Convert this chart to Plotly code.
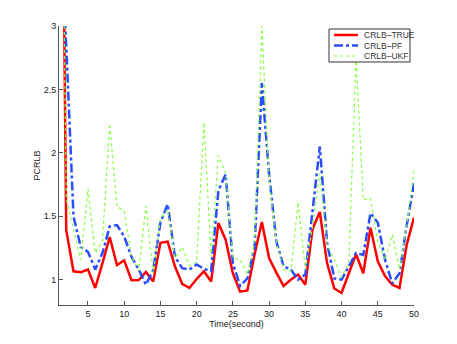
import plotly.graph_objects as go

# time index and the three PCRLB curves
time = list(range(1, 51))

crlb_true = [7.2, 1.39, 1.066, 1.058, 1.08, 0.934, 1.13, 1.336, 1.115, 1.152,
             0.995, 0.997, 1.06, 0.985, 1.29, 1.30, 1.105, 0.966, 0.934, 1.005,
             1.066, 0.985, 1.446, 1.315, 1.05, 0.905, 0.915, 1.20, 1.454, 1.17,
             1.055, 0.95, 1.0, 1.04, 0.96, 1.40, 1.533, 1.13, 0.93, 0.895,
             1.05, 1.20, 1.05, 1.41, 1.144, 1.028, 0.96, 0.935, 1.276, 1.49]

crlb_pf = [3.9, 2.85, 1.5, 1.257, 1.22, 1.08, 1.21, 1.42, 1.43, 1.34,
           1.18, 1.08, 0.96, 1.075, 1.45, 1.595, 1.18, 1.09, 1.08, 1.12,
           1.085, 1.068, 1.70, 1.83, 1.13, 0.95, 1.01, 1.26, 2.55, 1.83,
           1.30, 1.105, 1.08, 1.0, 1.04, 1.55, 2.05, 1.29, 1.01, 1.0,
           1.11, 1.21, 1.195, 1.525, 1.45, 1.157, 0.97, 1.05, 1.43, 1.76]

crlb_ukf = [6.5, 1.635, 1.40, 1.157, 1.714, 1.21, 1.30, 2.23, 1.577, 1.54,
            1.19, 1.07, 1.58, 1.05, 1.486, 1.55, 1.17, 1.257, 1.11, 1.14,
            2.24, 1.18, 1.98, 1.84, 1.17, 1.157, 1.04, 1.29, 3.0, 1.774,
            1.29, 1.08, 1.066, 1.61, 1.08, 1.42, 1.84, 1.276, 1.16, 1.02,
            1.13, 2.75, 1.63, 1.64, 1.30, 1.157, 1.354, 1.08, 1.42, 1.87]

FONT = "Liberation Sans, Arial, sans-serif"

SERIES = [
    ("CRLB\u2013TRUE", crlb_true, dict(color="#ff0000", width=2.5)),
    ("CRLB\u2013PF",   crlb_pf,   dict(color="#2a4dff", width=2.5, dash="dashdot")),
    ("CRLB\u2013UKF",  crlb_ukf,  dict(color="#80ff40", width=1.2, dash="dot")),
]

fig = go.Figure()
for name, vals, line in SERIES:
    fig.add_trace(go.Scatter(x=time, y=vals, name=name, mode="lines",
                             line=line, showlegend=False))

axis_common = dict(
    showgrid=False, zeroline=False, showline=True, automargin=False,
    linecolor="#555555", linewidth=1,
    ticks="inside", ticklen=4, tickcolor="#555555",
    tickfont=dict(size=9, color="#222222", family=FONT),
)

# page body has an 8px margin, so the figure is sized/offset to compensate
fig.update_layout(
    width=441, height=328,
    paper_bgcolor="white", plot_bgcolor="white",
    font=dict(family=FONT, size=9, color="#222222"),
    margin=dict(l=51, r=35, t=18, b=31),
    xaxis=dict(
        range=[1, 50], tickvals=[5, 10, 15, 20, 25, 30, 35, 40, 45, 50],
        title=dict(text="Time(second)", font=dict(size=9, family=FONT), standoff=2),
        **axis_common,
    ),
    yaxis=dict(
        range=[0.8, 3], tickvals=[1, 1.5, 2, 2.5, 3],
        ticktext=["1", "1.5", "2", "2.5", "3"],
        title=dict(text="PCRLB", font=dict(size=9, family=FONT), standoff=1),
        **axis_common,
    ),
)

# MATLAB-style compact legend box, drawn in paper coordinates
fig.add_shape(type="rect", xref="paper", yref="paper",
              x0=0.7606, x1=0.9887, y0=0.871, y1=0.9892,
              line=dict(color="#333333", width=1), fillcolor="white", layer="above")
row_y = [0.9677, 0.9301, 0.8925]
for (name, _, line), yy in zip(SERIES, row_y):
    fig.add_shape(type="line", xref="paper", yref="paper",
                  x0=0.7746, x1=0.8423, y0=yy, y1=yy, line=line, layer="above")
    fig.add_annotation(text=name, xref="paper", yref="paper", x=0.8535, y=yy,
                       xanchor="left", yanchor="middle", showarrow=False,
                       font=dict(size=8.5, family=FONT, color="#333333"))

fig.write_html("out.html")
